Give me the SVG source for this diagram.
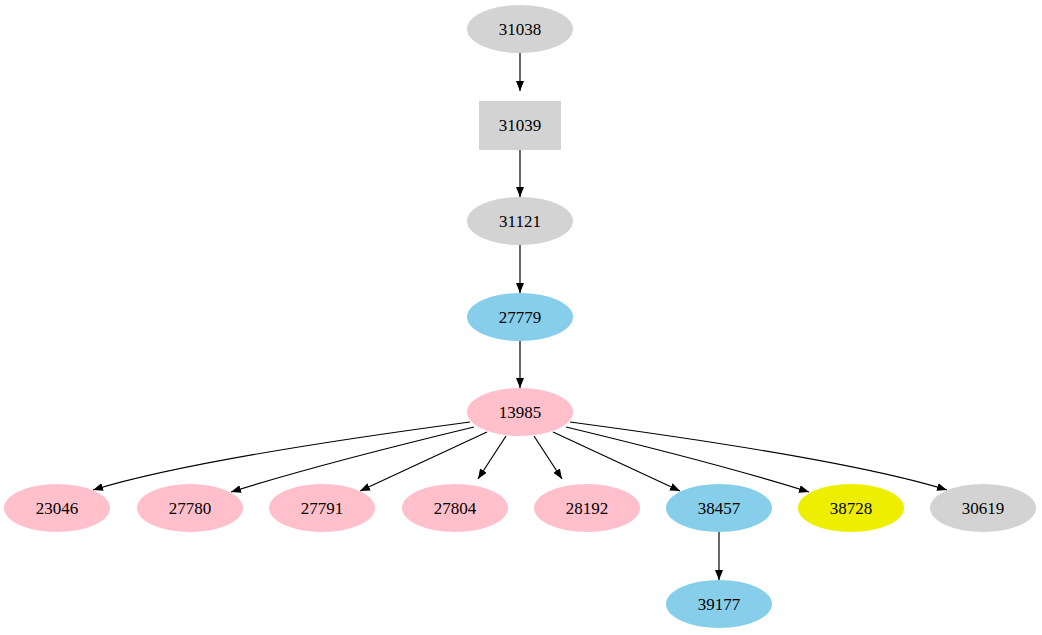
<svg xmlns="http://www.w3.org/2000/svg" width="1042" height="635" viewBox="0 0 1042 635">
<style>
text{font-family:"Liberation Serif",serif;font-size:17px;text-anchor:middle;fill:#000}
.g{fill:#d3d3d3}.p{fill:#ffc0cb}.b{fill:#87ceeb}.y{fill:#eeee00}
.e{fill:none;stroke:#000;stroke-width:1.2;marker-end:url(#a)}
</style>
<defs><marker id="a" markerWidth="10" markerHeight="8" refX="10" refY="4" orient="auto" markerUnits="userSpaceOnUse"><path d="M0,0L10,4L0,8z" fill="#000"/></marker></defs>
<rect width="1042" height="635" fill="#fff"/>
<g id="edges">
<path class="e" d="M520,53V91"/>
<path class="e" d="M520,150V197"/>
<path class="e" d="M520,245V293"/>
<path class="e" d="M520,341V388"/>
<path class="e" d="M470,422C380,434 190,460 93,490"/>
<path class="e" d="M474,427C420,440 310,467 231,492"/>
<path class="e" d="M487,432L360,491"/>
<path class="e" d="M506,436L478,479"/>
<path class="e" d="M534,436L562,479"/>
<path class="e" d="M553,432L680,491"/>
<path class="e" d="M566,427C620,440 730,467 809,492"/>
<path class="e" d="M570,422C660,434 850,460 947,490"/>
<path class="e" d="M719,532V580"/>
</g>
<g id="n31038"><ellipse class="g" cx="520" cy="29" rx="53" ry="24"/><text x="520" y="35">31038</text></g>
<g id="n31039"><rect class="g" x="479" y="101" width="82" height="49"/><text x="520" y="131">31039</text></g>
<g id="n31121"><ellipse class="g" cx="520" cy="221" rx="53" ry="24"/><text x="520" y="227">31121</text></g>
<g id="n27779"><ellipse class="b" cx="520" cy="317" rx="53" ry="24"/><text x="520" y="323">27779</text></g>
<g id="n13985"><ellipse class="p" cx="520" cy="412" rx="53" ry="24"/><text x="520" y="418">13985</text></g>
<g id="n23046"><ellipse class="p" cx="57" cy="508" rx="53" ry="24"/><text x="57" y="514">23046</text></g>
<g id="n27780"><ellipse class="p" cx="190" cy="508" rx="53" ry="24"/><text x="190" y="514">27780</text></g>
<g id="n27791"><ellipse class="p" cx="322" cy="508" rx="53" ry="24"/><text x="322" y="514">27791</text></g>
<g id="n27804"><ellipse class="p" cx="455" cy="508" rx="53" ry="24"/><text x="455" y="514">27804</text></g>
<g id="n28192"><ellipse class="p" cx="587" cy="508" rx="53" ry="24"/><text x="587" y="514">28192</text></g>
<g id="n38457"><ellipse class="b" cx="719" cy="508" rx="53" ry="24"/><text x="719" y="514">38457</text></g>
<g id="n38728"><ellipse class="y" cx="851" cy="508" rx="53" ry="24"/><text x="851" y="514">38728</text></g>
<g id="n30619"><ellipse class="g" cx="983" cy="508" rx="53" ry="24"/><text x="983" y="514">30619</text></g>
<g id="n39177"><ellipse class="b" cx="719" cy="604" rx="53" ry="24"/><text x="719" y="610">39177</text></g>
</svg>
